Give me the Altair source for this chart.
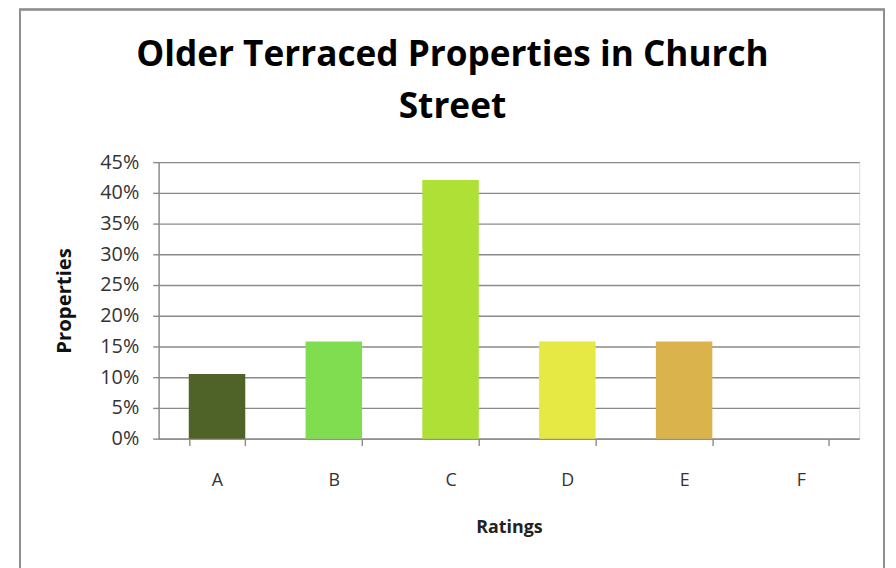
import altair as alt
import pandas as pd

ratings = ["A", "B", "C", "D", "E", "F"]
shares = [2 / 19, 3 / 19, 8 / 19, 3 / 19, 3 / 19, 0.0]
colors = ["#4f6228", "#80dd50", "#aee035", "#e6e843", "#dbb34d", "#c0504d"]
y_ticks = [0, 0.05, 0.10, 0.15, 0.20, 0.25, 0.30, 0.35, 0.40, 0.45]
title_lines = ["Older Terraced Properties in Church", "Street"]

df = pd.DataFrame({"Rating": ratings, "Share": shares})

FONT = "Open Sans"
TFONT = "Open Sans"
GRID = "#8a8a8a"
TXT = "#333333"

bars = alt.Chart(df).mark_bar(size=57).encode(
    x=alt.X(
        "Rating:N",
        sort=ratings,
        scale=alt.Scale(paddingInner=0.52, paddingOuter=0.26),
        axis=alt.Axis(
            title="Ratings",
            labelAngle=0,
            labelFont=FONT,
            labelFontSize=18,
            labelColor=TXT,
            labelPadding=26,
            tickBand="extent",
            tickSize=7,
            tickColor=GRID,
            tickWidth=1.4,
            domainColor=GRID,
            domainWidth=1.4,
            titleFont=FONT,
            titleFontSize=18,
            titleFontWeight="bold",
            titleColor="#222222",
            titleY=95,
            titleBaseline="alphabetic",
        ),
    ),
    y=alt.Y(
        "Share:Q",
        scale=alt.Scale(domain=[0, 0.45], nice=False),
        axis=alt.Axis(
            title="Properties",
            format=".0%",
            values=y_ticks,
            labelFont=FONT,
            labelFontSize=20,
            labelColor=TXT,
            labelPadding=14,
            tickSize=6,
            tickColor=GRID,
            tickWidth=1.4,
            domainColor=GRID,
            domainWidth=1.4,
            gridColor=GRID,
            gridWidth=1.4,
            titleFont=FONT,
            titleFontSize=20.5,
            titleFontWeight="bold",
            titleColor="#111111",
            titleX=-89,
            titleY=139.5,
            titleBaseline="alphabetic",
        ),
    ),
    color=alt.Color(
        "Rating:N", sort=ratings, scale=alt.Scale(domain=ratings, range=colors), legend=None
    ),
)

frame = alt.Chart(df).mark_rect(
    fill=None, stroke="#8f8f8f", strokeWidth=1.5, clip=False
).encode(
    x=alt.value(-140), x2=alt.value(732), y=alt.value(-154), y2=alt.value(600)
)

chart = (
    alt.layer(frame, bars)
    .properties(
        width=707,
        height=279,
        padding={"left": 152, "top": 153, "right": 29, "bottom": 128},
        autosize=alt.AutoSizeParams(type="none"),
        title=alt.TitleParams(
            text=title_lines,
            font=TFONT,
            fontSize=35.5,
            fontWeight="bold",
            color="#000000",
            anchor="middle",
            dx=-57,
            dy=118,
            lineHeight=53,
            offset=0,
        ),
    )
    .configure_view(stroke=None)
    .configure(background="white")
)

chart.save("out.html", embed_options={"renderer": "svg", "actions": False})
